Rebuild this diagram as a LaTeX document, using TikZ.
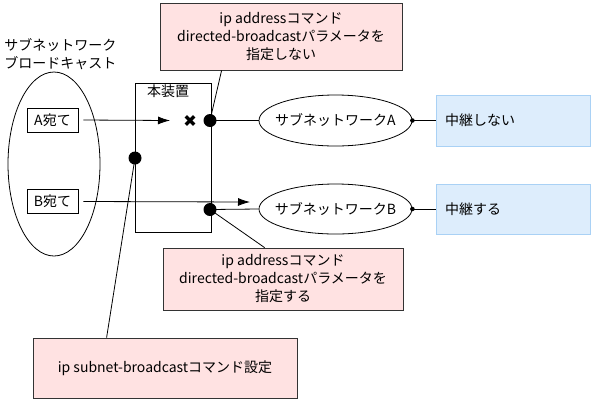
\documentclass[tikz,border=0pt]{standalone}
\usepackage{fontspec}
\setmainfont{Noto Sans CJK JP}
\usetikzlibrary{shapes.geometric,arrows.meta}
\definecolor{pinkfill}{HTML}{FFE2E2}
\definecolor{bluefill}{HTML}{DDEDFC}
\definecolor{blueline}{HTML}{A9D1F5}
\tikzset{
  base/.style={line width=0.6pt},
  tbox/.style={draw, base, inner sep=0pt},
  note/.style={draw=black!80, base, fill=pinkfill, align=center, inner sep=0pt},
  result/.style={draw=blueline, base, fill=bluefill, align=left, inner sep=0pt},
  bigdot/.style={circle, fill=black, minimum size=9.75pt, inner sep=0pt},
  smalldot/.style={circle, fill=black, minimum size=3.4pt, inner sep=0pt},
  subnet/.style={draw, base, ellipse, inner sep=0pt},
  arr/.style={base, -{Latex[length=9pt,width=6pt]}},
}
\begin{document}
\begin{tikzpicture}[x=0.75pt,y=-0.75pt,font=\fontsize{10.5}{13.5}\selectfont]
\useasboundingbox (0,0) rectangle (592,401);
% title
\node[anchor=west, align=left, inner sep=0pt] (title) at (4,54) {サブネットワーク\\ブロードキャスト};
% broadcast ellipse
\node[subnet, minimum width=69pt, minimum height=138pt] (bc) at (54,164) {};
\node[tbox, minimum width=38.25pt, minimum height=18pt] (A) at (52.5,120) {A宛て};
\node[tbox, minimum width=38.25pt, minimum height=18pt] (B) at (52.5,201.5) {B宛て};
% device
\node[tbox, minimum width=57pt, minimum height=111.75pt] (dev) at (173,157.5) {};
\node[inner sep=0pt] (devlabel) at (168,91) {本装置};
% subnet ellipses
\node[subnet, minimum width=114.75pt, minimum height=38.25pt] (subA) at (335.5,120.5) {};
\node[inner sep=0pt] (subAtext) at (subA.center) {サブネットワークA};
\node[subnet, minimum width=114.75pt, minimum height=37.5pt] (subB) at (335.5,209) {};
\node[inner sep=0pt] (subBtext) at (subB.center) {サブネットワークB};
% results
\node[result, minimum width=115.5pt, minimum height=38.25pt, text width=102pt] (nA) at (513,120.5) {中継しない};
\node[result, minimum width=115.5pt, minimum height=37.5pt, text width=102pt] (nB) at (513,209) {中継する};
% notes
\node[note, minimum width=181.5pt, minimum height=50.25pt] (p1) at (281,36.5) {ip addressコマンド\\directed-broadcastパラメータを\\指定しない};
\node[note, minimum width=180pt, minimum height=46.5pt] (p2) at (283,279) {ip addressコマンド\\directed-broadcastパラメータを\\指定する};
\node[note, minimum width=198pt, minimum height=45pt] (p3) at (165,368) {ip subnet-broadcastコマンド設定};
% coordinates
\coordinate (dA) at (210,120.5);
\coordinate (dB) at (210,209.5);
\coordinate (dL) at (135,158);
\coordinate (arrA) at (170,120.5);
\coordinate (arrB) at (250,202);
\coordinate (xA) at (190,120.5);
% connectors
\draw[arr] ([xshift=3.75pt]A.east) -- (arrA);
\draw[arr] ([xshift=3.75pt]B.east) -- (arrB);
\draw[base] (dA) -- (subA.west);
\draw[base] (dB) -- (subB.west);
\draw[base] (subA.east) -- (nA.west |- subA.east);
\draw[base] (subB.east) -- (nB.west |- subB.east);
\draw[base] (dA) -- ([xshift=46.5pt]p1.south west);
\draw[base] (dB) -- ([xshift=76.5pt]p2.north west);
\draw[base] (dL) -- ([xshift=55.5pt]p3.north west);
% cross
\draw[line width=2.4pt] ([shift={(-4.2,-4.2)}]xA) -- ([shift={(4.2,4.2)}]xA);
\draw[line width=2.4pt] ([shift={(-4.2,4.2)}]xA) -- ([shift={(4.2,-4.2)}]xA);
% dots
\node[bigdot] (dotA) at (dA) {};
\node[bigdot] (dotB) at (dB) {};
\node[bigdot] (dotL) at (dL) {};
\node[smalldot] (sdA) at (subA.east) {};
\node[smalldot] (sdB) at (subB.east) {};
\end{tikzpicture}
\end{document}
